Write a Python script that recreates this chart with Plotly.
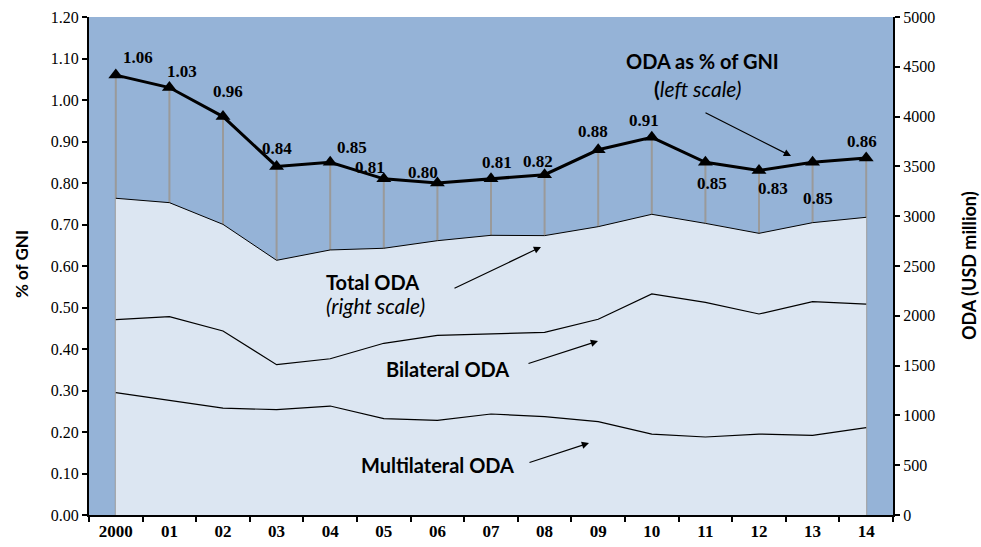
import plotly.graph_objects as go

# ---- data ----
years = ["2000", "01", "02", "03", "04", "05", "06", "07", "08", "09", "10", "11", "12", "13", "14"]
oda_gni = [1.06, 1.03, 0.96, 0.84, 0.85, 0.81, 0.80, 0.81, 0.82, 0.88, 0.91, 0.85, 0.83, 0.85, 0.86]
total_oda = [3180, 3136, 2918, 2557, 2661, 2678, 2754, 2808, 2805, 2895, 3019, 2928, 2828, 2935, 2989]
bilateral_oda = [1961, 1991, 1847, 1509, 1569, 1724, 1804, 1817, 1834, 1965, 2219, 2135, 2018, 2142, 2118]
multilateral_oda = [1228, 1148, 1074, 1057, 1094, 967, 950, 1014, 987, 937, 813, 783, 813, 800, 877]
left_ticks = [0.0, 0.1, 0.2, 0.3, 0.4, 0.5, 0.6, 0.7, 0.8, 0.9, 1.0, 1.1, 1.2]
right_ticks = [0, 500, 1000, 1500, 2000, 2500, 3000, 3500, 4000, 4500, 5000]

# label offsets (pixels) for value labels
label_dx = [22, 13, 5, 0, 22, -14, -14, 6, -7, -5, -8, 7, 14, 5, -4]
label_dy = [18, 16, 25, 18, 15, 11, 11, 16, 13, 18, 17, -21, -18, -36, 17]

DARK = "#95B3D7"
LIGHT = "#DCE6F2"
SANS = "Lato"
SERIF = "Liberation Serif"

fig = go.Figure()

fig.add_trace(go.Scatter(x=years, y=total_oda, yaxis="y2", mode="lines",
                         fill="tozeroy", fillcolor=LIGHT,
                         line=dict(color="black", width=1), hoverinfo="skip"))
fig.add_trace(go.Scatter(x=years, y=bilateral_oda, yaxis="y2", mode="lines",
                         line=dict(color="black", width=1.2), hoverinfo="skip"))
fig.add_trace(go.Scatter(x=years, y=multilateral_oda, yaxis="y2", mode="lines",
                         line=dict(color="black", width=1.2), hoverinfo="skip"))

# drop lines
dx, dy = [], []
for yr, v in zip(years, oda_gni):
    dx += [yr, yr, None]
    dy += [0, v, None]
fig.add_trace(go.Scatter(x=dx, y=dy, mode="lines", line=dict(color="#9A9A9A", width=2),
                         hoverinfo="skip"))

fig.add_trace(go.Scatter(x=years, y=oda_gni, mode="lines+markers",
                         line=dict(color="black", width=3),
                         marker=dict(symbol="triangle-up", size=13, color="black"),
                         hoverinfo="skip"))

annotations = []
for i, (v, ox, oy) in enumerate(zip(oda_gni, label_dx, label_dy)):
    annotations.append(dict(x=i, y=v, xref="x", yref="y", text=f"<b>{v:.2f}</b>",
                            showarrow=False, xshift=ox, yshift=oy,
                            font=dict(family=SERIF, size=17, color="black")))

W0, W1, H0, H1 = 89, 893, 17, 515
def px(x):
    return (x - W0) / (W1 - W0)
def py(y):
    return (H1 - y) / (H1 - H0)

texts = [
    ("<b>ODA as % of GNI</b>", 702, 61, 20),
    ("<b>(</b><i>left scale)</i>", 697, 88, 21),
    ("<b>Total ODA</b>", 372, 282, 20),
    ("<i>(right scale)</i>", 375, 305, 21),
    ("<b>Bilateral ODA</b>", 447, 369, 20),
    ("<b>Multilateral ODA</b>", 437, 465, 20),
]
for t, x, y, s in texts:
    annotations.append(dict(x=px(x), y=py(y), xref="x domain", yref="y domain", text=t,
                            xanchor="center", yanchor="middle",
                            showarrow=False, font=dict(family=SANS, size=s, color="black")))

arrows = [((704, 112), (791, 156)), ((453, 289), (541, 247)),
          ((527, 364), (598, 341)), ((528, 463), (589, 443))]
for (tx, ty), (hx, hy) in arrows:
    annotations.append(dict(x=px(hx), y=py(hy), xref="x domain", yref="y domain",
                            ax=px(tx), ay=py(ty), axref="x domain", ayref="y domain",
                            text="", showarrow=True, arrowhead=2, arrowsize=1.2,
                            arrowwidth=1.2, arrowcolor="black"))

annotations.append(dict(x=px(21), y=py(264), xref="paper", yref="paper",
                        text="<b>% of GNI</b>", textangle=-90, showarrow=False,
                        xanchor="center", yanchor="middle",
                        font=dict(family=SANS, size=17, color="black")))
annotations.append(dict(x=px(969), y=py(265), xref="paper", yref="paper",
                        text="<b>ODA (USD million)</b>", textangle=-90, showarrow=False,
                        xanchor="center", yanchor="middle",
                        font=dict(family=SANS, size=18, color="black")))

fig.update_layout(
    width=981, height=547,
    margin=dict(l=W0, r=981 - W1, t=H0, b=547 - H1),
    paper_bgcolor="white", plot_bgcolor=DARK,
    showlegend=False,
    xaxis=dict(type="category", range=[-0.5, 14.5], tickson="boundaries",
               ticks="outside", ticklen=5, tickwidth=1.5, tickcolor="black",
               showline=True, linecolor="black", linewidth=2, showgrid=False,
               tickfont=dict(family=SERIF, size=17, color="black"),
               tickprefix="<b>", ticksuffix="</b>", zeroline=False, automargin=False),
    yaxis=dict(range=[0, 1.2], tickvals=left_ticks, tickformat=".2f",
               ticks="outside", ticklen=5, tickwidth=1.5, tickcolor="black",
               showline=True, linecolor="black", linewidth=2, showgrid=False,
               zeroline=False, tickfont=dict(family=SERIF, size=16, color="black"),
               automargin=False),
    yaxis2=dict(range=[0, 5000], tickvals=right_ticks, overlaying="y", side="right",
                ticks="outside", ticklen=5, tickwidth=1.5, tickcolor="black",
                showline=True, linecolor="black", linewidth=2, showgrid=False,
                zeroline=False, tickfont=dict(family=SERIF, size=16, color="black"),
                automargin=False),
    annotations=annotations,
)

fig.write_html("out.html", config={"displayModeBar": False},
               post_script="document.body.style.margin='0';")
